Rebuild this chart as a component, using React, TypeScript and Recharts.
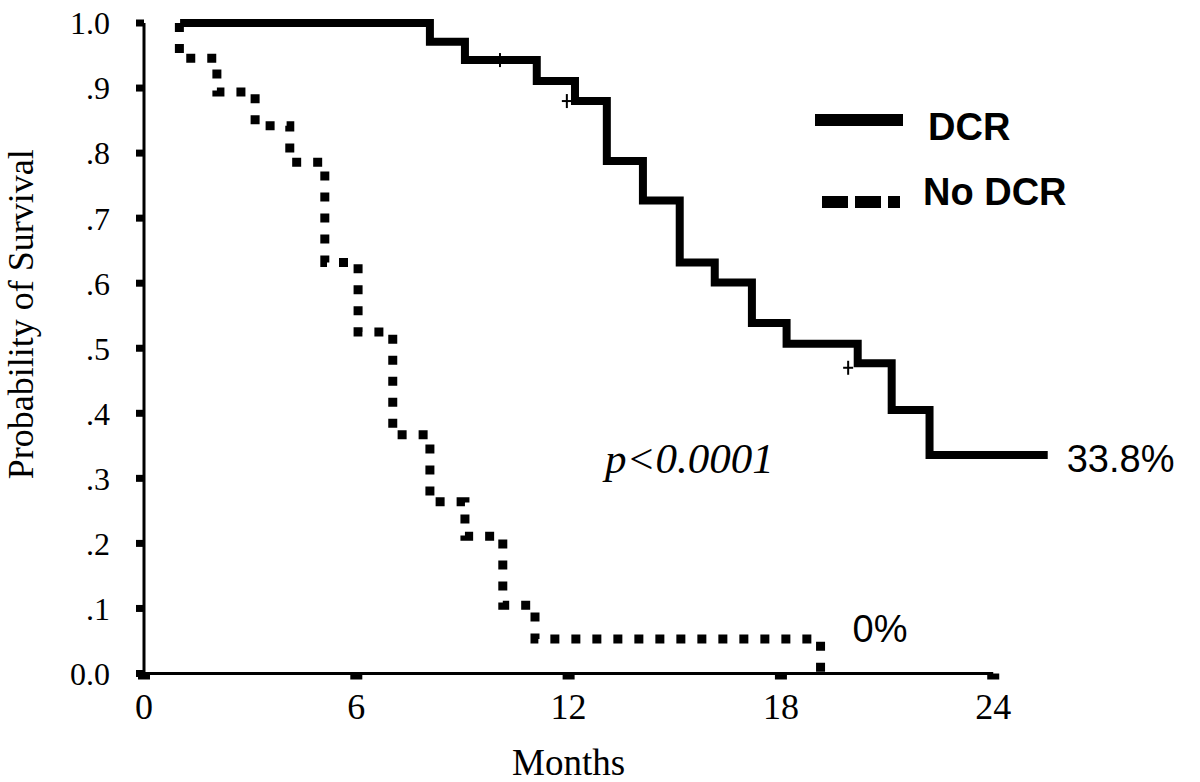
import { ComposedChart, Line, Scatter, XAxis, YAxis, Legend, ReferenceLine, ReferenceDot, Label } from 'recharts';

const MONTH_TICKS = [0, 6, 12, 18, 24];
const SURV_TICKS = [0, 0.1, 0.2, 0.3, 0.4, 0.5, 0.6, 0.7, 0.8, 0.9, 1.0];

// DCR group (solid)
const DCR_MONTHS = [1.02, 8.08, 9.07, 11.1, 12.18, 13.08, 14.1, 15.14, 16.13, 17.18, 18.16, 20.17, 21.13, 22.2, 25.54];
const DCR_SURV = [1.0, 0.971, 0.943, 0.911, 0.88, 0.788, 0.727, 0.632, 0.601, 0.539, 0.507, 0.477, 0.405, 0.336, 0.336];

// No DCR group (dotted)
const NODCR_MONTHS = [1.0, 1.0, 2.06, 3.14, 4.12, 5.11, 6.05, 7.03, 8.08, 9.07, 10.14, 11.05, 19.12];
const NODCR_SURV = [1.0, 0.946, 0.894, 0.842, 0.786, 0.632, 0.525, 0.367, 0.264, 0.211, 0.105, 0.053, 0];

// censored observations on the DCR curve
const CENSOR_MONTHS = [10.06, 11.95, 19.9];
const CENSOR_SURV = [0.943, 0.88, 0.47];

const X_MAX = 26;
const SERIF = '"Liberation Serif", "Times New Roman", serif';
const SANS = '"Liberation Sans", Arial, sans-serif';

const dcrData = DCR_MONTHS.map((t, i) => ({ t, s: DCR_SURV[i] }));
const noDcrData = NODCR_MONTHS.map((t, i) => ({ t, s: NODCR_SURV[i] }));
const censorData = CENSOR_MONTHS.map((t, i) => ({ t, s: CENSOR_SURV[i] }));

const fmtSurv = (v: number) => (v === 0 ? '0.0' : v === 1 ? '1.0' : '.' + Math.round(v * 10));

const CensorMark = (props: any) => {
  const { cx, cy } = props;
  return (
    <g stroke="#000" strokeWidth={2}>
      <line x1={cx} y1={cy - 7} x2={cx} y2={cy + 7} />
      <line x1={cx - 5} y1={cy} x2={cx + 5} y2={cy} />
    </g>
  );
};

const note = (text: string, dx: number, dy: number, style: any) => (props: any) => {
  const { x, y } = props.viewBox;
  return (
    <text x={x + dx} y={y + dy} fill="#000" {...style}>
      {text}
    </text>
  );
};

const LegendBox = () => (
  <svg width={270} height={125}>
    <line x1={5} y1={25} x2={93} y2={25} stroke="#000" strokeWidth={12} />
    <text x={118} y={45} fontFamily={SANS} fontWeight="bold" fontSize={38} fill="#000">DCR</text>
    <line x1={12} y1={107} x2={90} y2={107} stroke="#000" strokeWidth={12} strokeDasharray="26 7" />
    <text x={113} y={110} fontFamily={SANS} fontWeight="bold" fontSize={38} fill="#000">No DCR</text>
  </svg>
);

export default function App() {
  return (
    <div style={{ position: 'absolute', left: 0, top: 0, background: '#fff' }}>
      <ComposedChart width={1200} height={782} margin={{ top: 23, right: 136, bottom: 38.5, left: 0 }}>
        <XAxis
          dataKey="t"
          type="number"
          domain={[0, X_MAX]}
          ticks={MONTH_TICKS}
          height={70}
          axisLine={false}
          tickSize={6}
          tickMargin={14}
          tickLine={{ stroke: '#000', strokeWidth: 12 }}
          tick={{ fill: '#000', fontSize: 36, fontFamily: SERIF }}
        >
          <Label
            content={(props: any) => {
              const { x, width, y } = props.viewBox;
              const mid = (MONTH_TICKS[0] + MONTH_TICKS[MONTH_TICKS.length - 1]) / 2;
              return (
                <text x={x + (width * mid) / X_MAX} y={y + 101} textAnchor="middle" fontFamily={SERIF} fontSize={37} fill="#000">
                  Months
                </text>
              );
            }}
          />
        </XAxis>
        <YAxis
          type="number"
          domain={[0, 1]}
          ticks={SURV_TICKS}
          width={144}
          tickFormatter={fmtSurv}
          axisLine={{ stroke: '#000', strokeWidth: 3 }}
          tickSize={8}
          tickMargin={26}
          tickLine={{ stroke: '#000', strokeWidth: 7 }}
          tick={{ fill: '#000', fontSize: 32, fontFamily: SERIF }}
        >
          <Label
            content={(props: any) => {
              const { x, y, height } = props.viewBox;
              const cx = x + 21;
              const cy = y + height / 2 - 34;
              return (
                <text x={cx} y={cy} transform={`rotate(-90 ${cx} ${cy})`} textAnchor="middle" dominantBaseline="central" fontFamily={SERIF} fontSize={36} fill="#000">
                  Probability of Survival
                </text>
              );
            }}
          />
        </YAxis>
        <ReferenceLine segment={[{ x: 0, y: 0 }, { x: 24, y: 0 }]} stroke="#000" strokeWidth={3} />
        <Legend
          layout="vertical"
          align="center"
          verticalAlign="middle"
          wrapperStyle={{ left: 810, top: 95, width: 270, height: 125 }}
          content={() => <LegendBox />}
        />
        <Line
          data={dcrData}
          dataKey="s"
          name="DCR"
          type="stepAfter"
          stroke="#000"
          strokeWidth={8}
          strokeLinecap="butt"
          dot={false}
          activeDot={false}
          isAnimationActive={false}
        />
        <Line
          data={noDcrData}
          dataKey="s"
          name="No DCR"
          type="stepAfter"
          stroke="#000"
          strokeWidth={9}
          strokeDasharray="9 12"
          strokeLinecap="butt"
          dot={false}
          activeDot={false}
          isAnimationActive={false}
        />
        <Scatter data={censorData} dataKey="s" legendType="none" shape={CensorMark} isAnimationActive={false} />
        <ReferenceDot x={25.54} y={0.336} r={0} label={{ content: note('33.8%', 19, 17, { fontFamily: SANS, fontSize: 38 }) }} />
        <ReferenceDot x={19.12} y={0.053} r={0} label={{ content: note('0%', 32, 3, { fontFamily: SANS, fontSize: 38 }) }} />
        <ReferenceDot x={13} y={0.3} r={0} label={{ content: note('p<0.0001', 1, -5, { fontFamily: SERIF, fontSize: 43, fontStyle: 'italic' }) }} />
      </ComposedChart>
    </div>
  );
}
